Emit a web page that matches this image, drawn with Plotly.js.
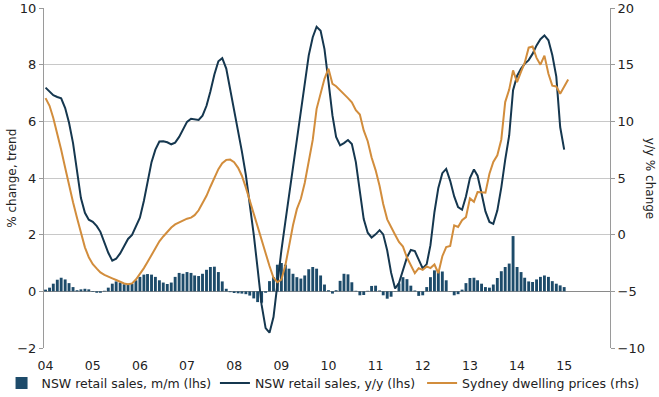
<!DOCTYPE html>
<html>
<head>
<meta charset="utf-8">
<script src="https://cdn.plot.ly/plotly-3.0.1.min.js"></script>
<style>html,body{margin:0;padding:0;background:#fff;}#chart{width:659px;height:397px;}</style>
</head>
<body>
<div id="chart"></div>
<script>
// Monthly series, Jan 2004 onwards
const startYear = 2004;
const yearTicks = ['04','05','06','07','08','09','10','11','12','13','14','15'];

const retailMoM = [
 0.06,0.13,0.27,0.41,0.48,0.42,0.29,0.15,0.04,0.07,0.09,0.07,
 -0.02,-0.05,-0.05,0.02,0.13,0.27,0.35,0.31,0.25,0.24,0.27,0.39,
 0.51,0.59,0.61,0.59,0.51,0.39,0.31,0.26,0.31,0.51,0.65,0.62,
 0.68,0.65,0.56,0.54,0.62,0.76,0.86,0.87,0.68,0.35,0.09,-0.03,
 -0.06,-0.07,-0.08,-0.10,-0.15,-0.25,-0.38,-0.40,-0.05,0.36,0.50,0.94,
 1.00,0.94,0.80,0.62,0.50,0.45,0.56,0.78,0.86,0.80,0.56,0.24,
 0.04,-0.08,0.04,0.37,0.62,0.60,0.32,0.02,-0.14,-0.13,0.02,0.19,
 0.20,0.03,-0.14,-0.26,-0.19,0.01,0.28,0.50,0.43,0.20,0.03,-0.16,
 -0.14,0.15,0.50,0.74,0.73,0.70,0.39,0.01,-0.14,-0.10,0.06,0.29,
 0.47,0.48,0.39,0.27,0.15,0.13,0.24,0.47,0.71,0.86,0.98,1.95,
 0.86,0.68,0.48,0.35,0.33,0.42,0.51,0.56,0.51,0.36,0.27,0.21,
 0.15
];

const retailYoY = [
 7.19,7.05,6.92,6.86,6.81,6.47,5.95,5.23,4.22,3.29,2.77,2.53,
 2.45,2.30,2.10,1.69,1.36,1.08,1.15,1.34,1.62,1.85,1.99,2.27,
 2.60,3.20,3.84,4.56,5.00,5.29,5.30,5.26,5.19,5.25,5.45,5.74,
 5.98,6.09,6.06,6.05,6.20,6.55,7.05,7.65,8.12,8.23,7.86,7.16,
 6.40,5.64,4.94,4.10,3.12,2.00,0.80,-0.48,-1.30,-1.46,-0.91,0.28,
 1.44,2.46,3.39,4.43,5.44,6.44,7.42,8.33,8.97,9.34,9.20,8.55,
 7.40,6.20,5.45,5.15,5.23,5.34,5.20,4.56,3.53,2.55,2.07,1.90,
 2.01,2.16,2.01,1.44,0.66,0.10,0.29,0.73,1.20,1.46,1.42,1.12,
 0.81,0.96,1.63,2.80,3.65,4.17,4.32,3.90,3.35,2.97,2.88,3.35,
 4.00,4.30,4.08,3.45,2.82,2.45,2.38,2.85,3.67,4.64,5.50,7.10,
 7.60,7.86,8.03,8.16,8.38,8.68,8.90,9.03,8.86,8.34,7.58,5.80,
 5.00
];

const sydneyPrices = [
 12.05,11.37,10.30,9.00,7.50,5.90,4.35,2.86,1.48,0.07,-1.12,-1.99,
 -2.60,-3.00,-3.33,-3.55,-3.73,-3.85,-4.00,-4.18,-4.31,-4.37,-4.30,-3.96,
 -3.47,-2.95,-2.42,-1.80,-1.19,-0.59,-0.16,0.28,0.63,0.90,1.07,1.24,
 1.41,1.50,1.72,2.15,2.75,3.43,4.23,5.00,5.78,6.30,6.60,6.62,
 6.40,5.90,5.20,4.15,3.00,1.85,0.70,-0.44,-1.62,-2.77,-3.80,-4.20,
 -3.97,-2.70,-1.05,0.83,2.25,3.17,4.56,6.35,8.36,11.10,12.50,13.75,
 14.65,13.30,13.10,12.70,12.40,12.05,11.68,10.98,10.60,9.20,8.25,6.80,
 5.70,4.30,2.70,1.35,0.74,0.00,-0.65,-1.05,-2.02,-2.70,-3.39,-2.95,
 -3.10,-2.80,-2.95,-2.63,-3.40,-1.90,-1.09,-1.00,0.82,0.68,1.28,1.55,
 3.20,2.90,3.76,3.75,3.70,5.38,6.41,7.00,8.40,11.70,12.80,14.50,
 13.45,14.38,15.15,16.50,16.60,15.60,15.00,15.80,14.20,13.15,13.08,12.44,
 13.03,13.70
];

function monthDates(n){
  const out=[];
  for(let i=0;i<n;i++){
    const y=startYear+Math.floor(i/12), m=(i%12)+1;
    out.push(y+'-'+(m<10?'0':'')+m+'-01');
  }
  return out;
}
const tickVals = yearTicks.map((t,i)=>(startYear+i)+'-01-01');

const FONT = 'Verdana, "DejaVu Sans", sans-serif';
const navyBar = '#1d4b6a';
const navyLine = '#15374f';
const orange = '#d28d3c';

const traces = [
  {type:'bar', name:'NSW retail sales, m/m (lhs)', x:monthDates(retailMoM.length), y:retailMoM,
   marker:{color:navyBar, line:{width:0}}, yaxis:'y', legend:'legend'},
  {type:'scatter', mode:'lines', name:'NSW retail sales, y/y (lhs)', x:monthDates(retailYoY.length), y:retailYoY,
   line:{color:navyLine, width:2}, yaxis:'y', legend:'legend2'},
  {type:'scatter', mode:'lines', name:'Sydney dwelling prices (rhs)', x:monthDates(sydneyPrices.length), y:sydneyPrices,
   line:{color:orange, width:2}, yaxis:'y2', legend:'legend3'}
];

function legendAt(x){
  return {orientation:'h', x:x, xanchor:'left', y:-0.06, yanchor:'top',
          font:{family:FONT, size:12.5, color:'#222'}, bgcolor:'rgba(0,0,0,0)',
          itemwidth:30, tracegroupgap:0};
}

const layout = {
  width:659, height:397,
  margin:{l:44, r:49, t:8, b:49, autoexpand:false},
  paper_bgcolor:'#fff', plot_bgcolor:'#fff',
  font:{family:FONT, size:12, color:'#222'},
  bargap:0.2,
  showlegend:true,
  legend:legendAt(-0.075),
  legend2:legendAt(0.302),
  legend3:legendAt(0.668),
  xaxis:{type:'date', range:['2003-12-20','2015-12-22'], tickvals:tickVals, ticktext:yearTicks,
         showgrid:false, zeroline:false, showline:false, ticks:'', tickfont:{size:12.5},
         ticklabelstandoff:8, fixedrange:true},
  yaxis:{range:[-2,10], tickvals:[-2,0,2,4,6,8,10], showgrid:true, gridcolor:'#c8c8c8', gridwidth:1,
         zeroline:true, zerolinecolor:'#8a8a8a', zerolinewidth:1,
         showline:true, linecolor:'#9a9a9a', linewidth:1, ticks:'outside', ticklen:4, tickcolor:'#9a9a9a',
         tickfont:{size:13}},
  yaxis2:{range:[-10,20], tickvals:[-10,-5,0,5,10,15,20], overlaying:'y', side:'right', showgrid:false, zeroline:false,
          showline:true, linecolor:'#9a9a9a', linewidth:1, ticks:'outside', ticklen:4, tickcolor:'#9a9a9a',
          tickfont:{size:13}},
  annotations:[
    {text:'% change, trend', xref:'paper', yref:'paper', x:-0.057, y:0.5, xanchor:'center', yanchor:'middle',
     textangle:-90, showarrow:false, font:{size:12}},
    {text:'y/y % change', xref:'paper', yref:'paper', x:1.071, y:0.5, xanchor:'center', yanchor:'middle',
     textangle:90, showarrow:false, font:{size:12}}
  ]
};

Plotly.newPlot('chart', traces, layout, {displayModeBar:false, staticPlot:true});
</script>
</body>
</html>
